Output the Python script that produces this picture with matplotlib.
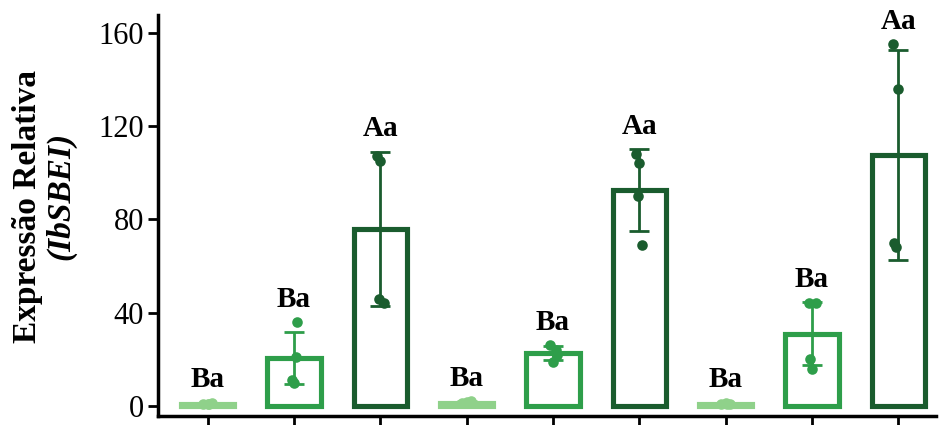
import numpy as np
import matplotlib
matplotlib.use("Agg")
import matplotlib.pyplot as plt

plt.rcParams["font.family"] = ["Liberation Serif", "DejaVu Serif"]

# nine groups, three shades repeated
means = [1.0, 20.6, 76.0, 1.5, 22.7, 92.5, 1.0, 31.0, 107.5]
errors = [0.5, 11.0, 33.0, 0.5, 3.0, 17.5, 0.5, 13.5, 45.0]
points = [
    [0.8, 1.0, 1.2, 1.0],
    [36.0, 21.0, 11.0, 10.0],
    [107.0, 105.0, 46.0, 44.0],
    [1.2, 1.8, 2.0, 1.3],
    [26.0, 24.0, 22.0, 19.0],
    [108.0, 104.0, 90.0, 69.0],
    [0.8, 1.2, 1.0, 0.9],
    [44.0, 44.0, 20.0, 16.0],
    [155.0, 136.0, 70.0, 68.0],
]
jitter = [
    [-0.05, 0.0, 0.05, 0.02],
    [0.03, 0.02, -0.02, 0.0],
    [-0.04, 0.0, -0.02, 0.04],
    [-0.05, 0.0, 0.05, 0.02],
    [-0.03, 0.03, 0.05, 0.0],
    [-0.04, 0.0, -0.02, 0.03],
    [-0.05, 0.0, 0.05, 0.02],
    [-0.04, 0.04, -0.02, 0.0],
    [-0.06, 0.0, -0.05, -0.03],
]
letters = ["Ba", "Ba", "Aa", "Ba", "Ba", "Aa", "Ba", "Ba", "Aa"]

shades = ["#8fd18a", "#2e9e4a", "#1a5c2e"]
colors = [shades[i % 3] for i in range(len(means))]

fig = plt.figure(figsize=(9.44, 4.25), dpi=100)
ax = fig.add_axes([0.167, 0.021, 0.824, 0.944])

x = np.arange(len(means))
for i in x:
    c = colors[i]
    ax.bar(i, means[i], width=0.62, facecolor="white", edgecolor=c,
           linewidth=3.7, zorder=2)
    ax.errorbar(i, means[i], yerr=errors[i], color=c, capsize=7,
                elinewidth=2, capthick=2, zorder=3)
    ax.scatter(i + np.array(jitter[i]), points[i], s=58, color=c,
               zorder=4, linewidths=0)
    top = max(max(points[i]), means[i] + errors[i])
    ax.text(i, top + 4, letters[i], ha="center", va="bottom",
            fontsize=21, fontweight="bold")

ax.set_ylim(-4.3, 167.7)
ax.set_xlim(-0.58, 8.43)
ax.set_yticks([0, 40, 80, 120, 160])
ax.set_xticks(x)
ax.set_xticklabels([])
ax.tick_params(axis="y", labelsize=22, width=2, length=7, pad=3)
ax.tick_params(axis="x", width=2, length=10)
for s in ["top", "right"]:
    ax.spines[s].set_visible(False)
for s in ["left", "bottom"]:
    ax.spines[s].set_linewidth(2.5)

fig.text(0.029, 0.513, "Expressão Relativa", rotation=90, ha="center",
         va="center", fontsize=24, fontweight="bold")
fig.text(0.064, 0.538, "(IbSBEI)", rotation=90, ha="center", va="center",
         fontsize=24, fontweight="bold", fontstyle="italic")

fig.savefig("out.png", dpi=100)
